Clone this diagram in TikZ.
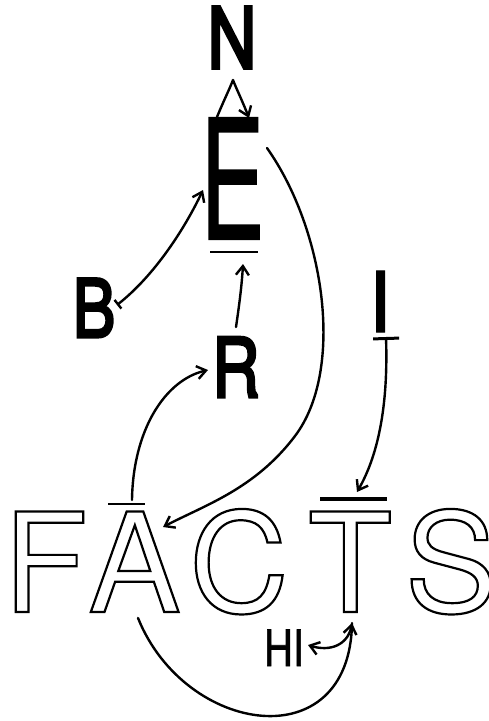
\documentclass[tikz,border=0pt]{standalone}
\usepackage{fontspec}
\usepackage{graphicx}
\setmainfont{TeX Gyre Heros}
\usetikzlibrary{arrows.meta,calc}
\newcommand\hollowtext[1]{\special{pdf:literal direct 1 Tr 2.2 w}#1\special{pdf:literal direct 0 Tr}}
\newcommand\heavytext[2]{\special{pdf:literal direct 2 Tr #1 w}#2\special{pdf:literal direct 0 Tr}}
\begin{document}
\begin{tikzpicture}[x=1pt,y=-1pt,line cap=round,
  >={Straight Barb[length=9pt,width=13pt]},
  conn/.style={line width=2.4pt},
  lbl/.style={inner sep=0pt,anchor=base},
  bigl/.style={lbl,font=\fontsize{138}{138}\selectfont},
  barline/.style={line width=2.8pt,line cap=butt}]
\useasboundingbox (0,0) rectangle (489,721);
% letters
\node[lbl,font=\fontsize{84}{84}\selectfont] (N) at (232,68) {\scalebox{0.8}[1]{\heavytext{3.5}{N}}};
\node[lbl,font=\fontsize{166}{166}\selectfont] (E) at (232.5,239) {\scalebox{0.58}[1]{\heavytext{2}{E}}};
\node[lbl,font=\fontsize{80}{80}\selectfont] (B) at (94,337) {\scalebox{0.8}[1]{\heavytext{3}{B}}};
\node[lbl,font=\fontsize{82}{82}\selectfont] (R) at (236,397) {\scalebox{0.8}[1]{\heavytext{3}{R}}};
\node[lbl,font=\fontsize{84}{84}\selectfont] (I) at (380,332) {\heavytext{1}{I}};
\node[lbl,font=\fontsize{50}{50}\selectfont] (HI) at (284,666) {\scalebox{0.8}[1]{\heavytext{0.8}{HI}}};
\node[bigl] (F) at (45.5,612) {\hollowtext{F}};
\node[bigl] (A) at (134.5,612) {\hollowtext{A}};
\node[bigl] (C) at (239,612) {\hollowtext{C}};
\node[bigl] (T) at (350,612) {\hollowtext{T}};
\node[bigl] (S) at (451,612) {\hollowtext{S}};
% bars
\coordinate (Eb1) at (210,252); \coordinate (Eb2) at (258,252);
\coordinate (Ab1) at (108,504); \coordinate (Ab2) at (145,504);
\coordinate (Tb1) at (320,499); \coordinate (Tb2) at (387,499);
\draw[barline] (Eb1) -- (Eb2);
\draw[barline] (Ab1) -- (Ab2);
\draw[barline,line width=4pt] (Tb1) -- (Tb2);
% connector end points
\coordinate (ne0) at (217,117);
\coordinate (ne1) at (233,80);
\coordinate (ne2) at (249,118);
\coordinate (be0) at (117,305);
\coordinate (be1) at (203,190);
\coordinate (re0) at (236,327);
\coordinate (re1) at (243,264);
\coordinate (ea0) at (267,148);
\coordinate (ea1) at (295,436);
\coordinate (ea2) at (163,527);
\coordinate (it0) at (386,337);
\coordinate (it1) at (357,492);
\coordinate (ar0) at (132,500);
\coordinate (ar1) at (208,370);
\coordinate (at0) at (138,618);
\coordinate (tt) at (352,623);
\coordinate (hi0) at (308,645);
% connectors
\draw[conn,->,line join=round] (ne0) .. controls (224,100) and (230,88) .. (ne1) .. controls (236,88) and (242,100) .. (ne2);
\draw[conn,{Bar[width=11pt]}->] (be0) .. controls (155,275) and (185,228) .. (be1);
\draw[conn,->] (re0) .. controls (240,300) and (242,282) .. (re1);
\draw[conn,->] (ea0) .. controls (325,230) and (345,370) .. (ea1) .. controls (255,489) and (205,505) .. (ea2);
\draw[conn,{Bar[width=26pt,line width=3pt]}->] (it0) .. controls (388,400) and (380,452) .. (it1);
\draw[conn,->] (ar0) .. controls (133,430) and (165,380) .. (ar1);
\draw[conn] (at0) .. controls (185,735) and (350,760) .. (tt);
\draw[conn,<->] (hi0) .. controls (330,652) and (348,645) .. (tt);
\end{tikzpicture}
\end{document}
